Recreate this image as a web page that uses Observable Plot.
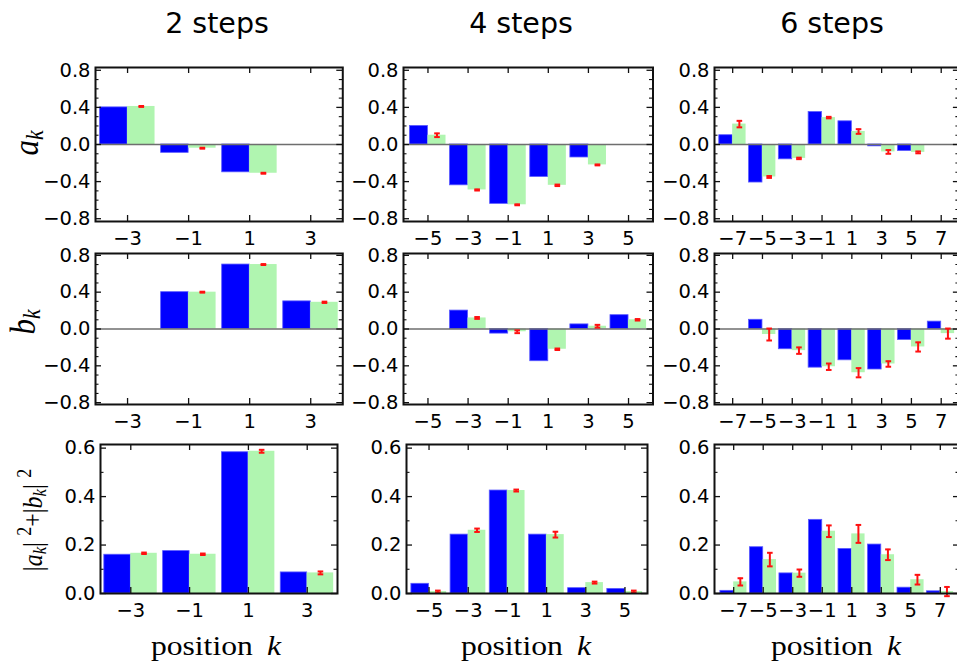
<!DOCTYPE html>
<html><head><meta charset="utf-8">
<script src="https://cdn.jsdelivr.net/npm/d3@7"></script>
<script src="https://cdn.jsdelivr.net/npm/@observablehq/plot@0.6"></script>
<style>
html,body{margin:0;padding:0;background:#fff;}
#root{position:relative;width:957px;height:664px;overflow:hidden;background:#fff;}
.title{position:absolute;font-family:"DejaVu Sans",sans-serif;font-size:28.5px;color:#000;transform:translateX(-50%);white-space:nowrap;line-height:1;}
.serif{position:absolute;font-family:"Liberation Serif",serif;color:#000;white-space:nowrap;line-height:1;}
.rot{transform:translate(-50%,-50%) rotate(-90deg) scaleY(1.15);}
.xl{transform:translateX(-50%) scaleX(1.15);}
</style></head><body><div id="root"></div>
<script>
// ---------- data ----------
const titles = ["2 steps", "4 steps", "6 steps"];
const positions2 = [-3, -1, 1, 3];
const positions4 = [-5, -3, -1, 1, 3, 5];
const positions6 = [-7, -5, -3, -1, 1, 3, 5, 7];

const a2Theory = [0.40, -0.09, -0.30, 0];
const a2Exp    = [0.41, -0.04, -0.31, 0];
const a2Err    = [0.005, 0.005, 0.005, null];
const b2Theory = [0, 0.40, 0.70, 0.30];
const b2Exp    = [0, 0.40, 0.70, 0.29];
const b2Err    = [null, 0.005, 0.005, 0.007];
const p2Theory = [0.16, 0.175, 0.583, 0.087];
const p2Exp    = [0.166, 0.162, 0.587, 0.085];
const p2Err    = [0.003, 0.003, 0.006, 0.006];

const a4Theory = [0.20, -0.44, -0.64, -0.35, -0.14, 0];
const a4Exp    = [0.10, -0.49, -0.65, -0.44, -0.22, 0];
const a4Err    = [0.02, 0.006, 0.005, 0.008, 0.005, null];
const b4Theory = [0, 0.20, -0.05, -0.35, 0.05, 0.15];
const b4Exp    = [0, 0.12, -0.03, -0.22, 0.03, 0.10];
const b4Err    = [null, 0.01, 0.015, 0.008, 0.015, 0.008];
const p4Theory = [0.04, 0.243, 0.425, 0.243, 0.022, 0.019];
const p4Exp    = [0.008, 0.261, 0.425, 0.243, 0.045, 0.008];
const p4Err    = [0.004, 0.007, 0.004, 0.012, 0.004, 0.004];

const a6Theory = [0.10, -0.41, -0.16, 0.35, 0.25, -0.02, -0.07, 0];
const a6Exp    = [0.22, -0.35, -0.15, 0.29, 0.14, -0.08, -0.085, 0];
const a6Err    = [0.035, 0.01, 0.008, 0.008, 0.025, 0.02, 0.01, null];
const b6Theory = [0, 0.10, -0.22, -0.42, -0.34, -0.44, -0.12, 0.08];
const b6Exp    = [0, -0.06, -0.235, -0.41, -0.475, -0.38, -0.195, -0.05];
const b6Err    = [null, 0.065, 0.035, 0.035, 0.05, 0.03, 0.05, 0.055];
const p6Theory = [0.011, 0.191, 0.083, 0.304, 0.184, 0.202, 0.024, 0.009];
const p6Exp    = [0.048, 0.14, 0.084, 0.257, 0.246, 0.16, 0.057, 0.008];
const p6Err    = [0.015, 0.028, 0.015, 0.024, 0.037, 0.022, 0.02, 0.019];

const ampMajor = [-0.8, -0.4, 0, 0.4, 0.8];
const ampMinor = [-0.7, -0.6, -0.5, -0.3, -0.2, -0.1, 0.1, 0.2, 0.3, 0.5, 0.6, 0.7];
const probMajor = [0, 0.2, 0.4, 0.6];
const probMinor = [0.1, 0.3, 0.5];

// ---------- style ----------
const BLUE = "#0000ff", BLUE_EDGE = "#5a5aff", GREEN = "#b0f5b0", RED = "#ff1010", INK = "#111";
const BW = 0.9;
const mL = 62, mR = 8, mT = 6, mB = 36;
const root = document.getElementById("root");

const colFrames = [
  {ab: {l: 95, r: 342.3, xdom: [-4.05, 4.05]}, p: {l: 100, r: 337, xdom: [-4.03, 4.03]}},
  {ab: {l: 403, r: 652.5, xdom: [-6.22, 6.22]}, p: {l: 406, r: 647, xdom: [-6.15, 6.15]}},
  {ab: {l: 714.3, r: 959.2, xdom: [-8.22, 8.22]}, p: {l: 713.5, r: 958.5, xdom: [-8.3, 8.3]}}
];
const rowFrames = [
  {t: 67, b: 221, ydom: [-0.83, 0.83]},
  {t: 253, b: 404, ydom: [-0.82, 0.82]},
  {t: 444, b: 593, ydom: [0, 0.615]}
];

const capSym = {draw(ctx, size) { const w = Math.sqrt(size / Math.PI); ctx.moveTo(-w, 0); ctx.lineTo(w, 0); }};

function panel({l, r, t, b, xdom, ydom, k, theory, exp, err, yMajor, yMinor, yFmt, zero}) {
  const fw = r - l, fh = b - t;
  const rows = k.map((kk, i) => ({k: kk, th: theory[i], ex: exp[i], er: err[i]}));
  const errRows = rows.filter(d => d.er != null);
  const tick = {stroke: INK, strokeOpacity: 1, strokeWidth: 1.3};
  const txt = {fontFamily: "DejaVu Sans", fontSize: 19.5, fill: "#000"};
  const marks = [
    Plot.rectY(rows, {x1: d => d.k - BW, x2: d => d.k, y1: d => 0, y2: "th", fill: BLUE, stroke: BLUE_EDGE, strokeWidth: 0.8}),
    Plot.rectY(rows, {x1: d => d.k, x2: d => d.k + BW, y1: d => 0, y2: "ex", fill: GREEN})
  ];
  if (zero) marks.push(Plot.ruleY([0], {stroke: "#6e6e6e", strokeWidth: 1.4}));
  marks.push(
    Plot.ruleX(errRows, {x: d => d.k + BW / 2, y1: d => d.ex - d.er, y2: d => d.ex + d.er, stroke: RED, strokeWidth: 2}),
    Plot.dot(errRows, {x: d => d.k + BW / 2, y: d => d.ex - d.er, symbol: capSym, r: 2.8, fill: "none", stroke: RED, strokeWidth: 2}),
    Plot.dot(errRows, {x: d => d.k + BW / 2, y: d => d.ex + d.er, symbol: capSym, r: 2.8, fill: "none", stroke: RED, strokeWidth: 2}),
    Plot.gridY(yMajor, {...tick, insetRight: fw - 6}),
    Plot.gridY(yMajor, {...tick, insetLeft: fw - 6}),
    Plot.gridY(yMinor, {...tick, strokeWidth: 1.1, insetRight: fw - 3.5}),
    Plot.gridY(yMinor, {...tick, strokeWidth: 1.1, insetLeft: fw - 3.5}),
    Plot.gridX(k, {...tick, insetBottom: fh - 6}),
    Plot.gridX(k, {...tick, insetTop: fh - 6}),
    Plot.frame({stroke: INK, strokeWidth: 2}),
    Plot.axisY(yMajor, {...txt, tickSize: 0, tickPadding: 5, tickFormat: yFmt, label: null}),
    Plot.axisX(k, {...txt, tickSize: 0, tickPadding: 10, tickFormat: d3.format("d"), label: null})
  );
  const svg = Plot.plot({
    width: fw + mL + mR, height: fh + mT + mB,
    marginLeft: mL, marginRight: mR, marginTop: mT, marginBottom: mB,
    x: {domain: xdom}, y: {domain: ydom},
    style: {background: "transparent", overflow: "visible", fontFamily: "DejaVu Sans", fontSize: "19.5px", color: "#000"},
    marks
  });
  svg.style.position = "absolute";
  svg.style.left = (l - mL) + "px";
  svg.style.top = (t - mT) + "px";
  svg.style.maxWidth = "none";
  root.appendChild(svg);
}

const sets = [
  {k: positions2, a: [a2Theory, a2Exp, a2Err], b: [b2Theory, b2Exp, b2Err], p: [p2Theory, p2Exp, p2Err]},
  {k: positions4, a: [a4Theory, a4Exp, a4Err], b: [b4Theory, b4Exp, b4Err], p: [p4Theory, p4Exp, p4Err]},
  {k: positions6, a: [a6Theory, a6Exp, a6Err], b: [b6Theory, b6Exp, b6Err], p: [p6Theory, p6Exp, p6Err]}
];
const f1 = d3.format(".1f");
sets.forEach((s, c) => {
  ["a", "b"].forEach((q, ri) => {
    const [theory, exp, err] = s[q];
    panel({...colFrames[c].ab, ...rowFrames[ri], k: s.k, theory, exp, err, yMajor: ampMajor, yMinor: ampMinor, yFmt: f1, zero: true});
  });
  const [theory, exp, err] = s.p;
  panel({...colFrames[c].p, ...rowFrames[2], k: s.k, theory, exp, err, yMajor: probMajor, yMinor: probMinor, yFmt: f1, zero: false});
});

// ---------- text ----------
function addDiv(cls, html, css) {
  const d = document.createElement("div");
  d.className = cls; d.innerHTML = html; Object.assign(d.style, css);
  root.appendChild(d); return d;
}
const titleX = [217, 521, 832];
titles.forEach((t, i) => addDiv("title", t, {left: titleX[i] + "px", top: "10px"}));
const posX = [216, 526, 836];
posX.forEach(x => addDiv("serif xl", 'position<i style="margin-left:0.45em">k</i>', {left: x + "px", top: "632px", fontSize: "27.5px"}));
addDiv("serif rot", '<i>a</i><sub style="font-size:0.7em;vertical-align:-0.2em"><i>k</i></sub>', {left: "28px", top: "143px", fontSize: "31px"});
addDiv("serif rot", '<i>b</i><sub style="font-size:0.7em;vertical-align:-0.2em"><i>k</i></sub>', {left: "25px", top: "322px", fontSize: "31px"});
addDiv("serif rot", '|<i>a</i><sub style="font-size:0.7em;vertical-align:-0.2em"><i>k</i></sub>|<sup style="font-size:0.75em;margin-left:0.35em">2</sup>+|<i>b</i><sub style="font-size:0.7em;vertical-align:-0.2em"><i>k</i></sub>|<sup style="font-size:0.75em;margin-left:0.35em">2</sup>', {left: "32px", top: "520px", fontSize: "24px"});
</script></body></html>
